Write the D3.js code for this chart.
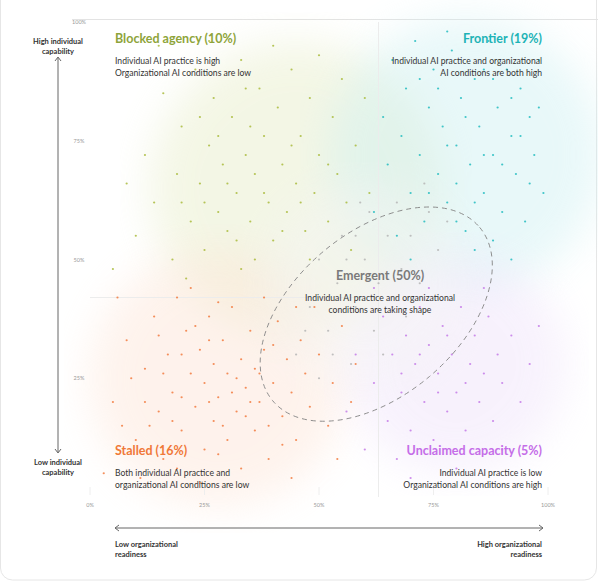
<!DOCTYPE html>
<html><head><meta charset="utf-8">
<script src="https://cdn.jsdelivr.net/npm/d3@7"></script>
<style>body{margin:0;background:#fff;font-family:Lato,"Noto Sans",sans-serif}</style>
</head><body><svg id="c" width="598" height="584"></svg>
<script>
const ticks=[0,25,50,75,100];
const orange="5 20,8 33,10 12,12 27,14 38,15 18,16 8,17 30,18 22,19 42,20 14,21 35,22 26,23 19,24 31,25 10,25 24,26 38,27 16,27 28,28 21,29 33,30 12,30 26,31 40,32 18,33 29,34 23,35 35,36 14,36 27,37 20,38 31,39 8,40 24,41 37,42 17,43 29,44 22,45 12,46 33,47 26,48 19,50 30,52 15,53 24,55 36,57 20,3 5,6 42,9 25,11 4,13 15,19 6,22 44,24 3,28 41,33 6,38 42,44 4,49 40,54 8,58 28,12 20,16 26,20 30,23 36,26 20,29 15,32 25,35 20,37 26,40 32,42 11,20 21,18 16,26 33,31 22,34 17,28 9,15 34,39 15,45 40,7 15";
const green="10 55,12 72,14 62,16 85,18 50,19 68,20 78,22 58,23 90,24 66,25 52,26 74,27 84,28 60,29 70,30 56,31 80,32 64,33 92,34 72,35 58,36 68,37 86,38 76,39 62,40 54,41 82,42 70,43 60,44 90,45 66,46 76,47 56,48 84,49 64,50 72,52 58,53 80,54 68,55 88,56 62,58 74,60 84,5 48,8 66,15 95,21 46,26 96,33 48,40 95,50 93,57 52,61 64,25 62,30 66,35 78,38 64,42 56,44 74,28 76,32 54,46 62,52 70,36 50,24 80,48 50,20 62,34 86";
const teal="62 60,64 80,65 70,66 92,67 55,68 76,69 86,70 64,71 96,72 72,73 58,74 82,75 90,76 68,77 78,78 62,79 94,80 74,81 84,82 56,83 70,84 88,85 78,86 64,87 96,88 72,89 82,90 60,91 90,92 76,93 68,94 86,95 58,96 80,97 72,98 92,99 64,84 52,88 54,92 50,78 98,70 50,86 72,82 80,90 70,76 86,94 76,80 66,88 88,72 88,96 66,84 62,78 74,92 84,86 90,74 64,98 82,80 58";
const purple="56 18,58 30,60 10,62 24,64 38,65 16,66 30,67 8,68 22,69 34,70 14,71 28,72 40,73 20,74 32,75 12,76 26,77 36,78 18,79 30,80 22,81 40,82 14,83 28,84 34,85 20,86 26,87 38,88 16,89 30,90 24,92 34,94 20,96 28,98 36,70 4,80 6,90 10,62 44,74 44,86 44,76 22,72 30,82 24,78 34,68 26";
const gray="45 30,48 40,50 50,52 35,54 45,55 55,57 28,58 40,60 50,61 60,62 35,63 45,65 55,66 40,67 62,68 48,70 55,72 45,74 60,76 52,78 58,50 25,53 30,56 50,59 62,64 30,69 38,47 35,58 55,73 66";
const groups=[{pts:orange,c:"#f27b3f"},{pts:green,c:"#a9bb3c"},{pts:teal,c:"#22bcc0"},{pts:purple,c:"#c47ae8"},{pts:gray,c:"#b5b5b5"}];
const glows=[{x:45,y:65,r:32,c:"#e6ecc6"},{x:82,y:72,r:30,c:"#cdf0f2"},{x:28,y:25,r:28,c:"#fde4d6"},{x:80,y:28,r:24,c:"#efe2fa"},{x:60,y:45,r:22,c:"#f4f4f4"}];
const labels=[
 {t:"Blocked agency (10%)",s:["Individual AI practice is high","Organizational AI conditions are low"],x:115,y:43,a:"start",c:"#8ea43a"},
 {t:"Frontier (19%)",s:["Individual AI practice and organizational","AI conditions are both high"],x:542,y:43,a:"end",c:"#1db3b6"},
 {t:"Stalled (16%)",s:["Both individual AI practice and","organizational AI conditions are low"],x:115,y:455,a:"start",c:"#f07838"},
 {t:"Unclaimed capacity (5%)",s:["Individual AI practice is low","Organizational AI conditions are high"],x:542,y:455,a:"end",c:"#c56de8"},
 {t:"Emergent (50%)",s:["Individual AI practice and organizational","conditions are taking shape"],x:380,y:280,a:"middle",c:"#7a7a7a"}];

const svg=d3.select("#c");
const x=d3.scaleLinear().domain([0,100]).range([90,548]);
const y=d3.scaleLinear().domain([0,100]).range([497,22]);
svg.append("rect").attr("x",0.5).attr("y",-20).attr("width",596).attr("height",600).attr("rx",12).attr("fill","#fff").attr("stroke","#e6e6e6");
svg.append("line").attr("x1",72).attr("x2",598).attr("y1",19.5).attr("y2",19.5).attr("stroke","#e3e3e3");
const defs=svg.append("defs");
defs.append("filter").attr("id","bl").append("feGaussianBlur").attr("stdDeviation",20);
glows.forEach((g,i)=>{
 svg.append("circle").attr("cx",x(g.x)).attr("cy",y(g.y)).attr("r",x(g.r)-x(0)).attr("fill",g.c).attr("opacity",0.45).attr("filter","url(#bl)");
});
svg.append("line").attr("x1",x(63)).attr("x2",x(63)).attr("y1",y(100)).attr("y2",y(0)).attr("stroke","#ececec");
svg.append("line").attr("x1",x(0)).attr("x2",x(63)).attr("y1",y(42)).attr("y2",y(42)).attr("stroke","#ececec");
groups.forEach(g=>{
 const d=g.pts.split(",").map(p=>p.trim().split(" ").map(Number));
 svg.append("g").selectAll("circle").data(d).join("circle").attr("cx",p=>x(p[0])).attr("cy",p=>y(p[1])).attr("r",1.1).attr("fill",g.c).attr("opacity",0.85);
});
svg.append("ellipse").attr("cx",0).attr("cy",0).attr("rx",135).attr("ry",82)
 .attr("transform",`translate(${x(62.5)},${y(38.5)}) rotate(-40)`).attr("fill","none").attr("stroke","#8a8a8a").attr("stroke-dasharray","5,4").attr("stroke-width",0.9);
svg.append("g").selectAll("text").data(ticks).join("text").attr("x",d=>x(d)).attr("y",507).attr("text-anchor","middle").attr("font-size",5.5).attr("fill","#999").text(d=>d+"%");
svg.append("g").selectAll("text").data(ticks.slice(1)).join("text").attr("x",79).attr("y",d=>y(d)+2).attr("text-anchor","middle").attr("font-size",5.5).attr("fill","#999").text(d=>d+"%");
svg.append("g").selectAll("line").data(ticks).join("line").attr("x1",d=>x(d)).attr("x2",d=>x(d)).attr("y1",487).attr("y2",495).attr("stroke","#eee");
labels.forEach(l=>{
 svg.append("text").attr("x",l.x).attr("y",l.y).attr("text-anchor",l.a).attr("font-size",12.5).attr("font-weight",700).attr("fill",l.c).text(l.t);
 l.s.forEach((s,i)=>svg.append("text").attr("x",l.x).attr("y",l.y+21+i*12).attr("text-anchor",l.a).attr("font-size",8.6).attr("fill","#333").text(s));
});
const ac="#666";
svg.append("line").attr("x1",58).attr("x2",58).attr("y1",58).attr("y2",452).attr("stroke",ac);
svg.append("path").attr("d","M55,61L58,57L61,61M55,449L58,453L61,449").attr("fill","none").attr("stroke",ac);
svg.append("line").attr("x1",115).attr("x2",543).attr("y1",528).attr("y2",528).attr("stroke",ac);
svg.append("path").attr("d","M119,525L115,528L119,531M539,525L543,528L539,531").attr("fill","none").attr("stroke",ac);
function ml(lines,xx,yy,a){lines.forEach((s,i)=>svg.append("text").attr("x",xx).attr("y",yy+i*10).attr("text-anchor",a).attr("font-size",7.5).attr("font-weight",700).attr("fill","#333").text(s));}
ml(["High individual","capability"],58,44,"middle");
ml(["Low individual","capability"],58,465,"middle");
ml(["Low organizational","readiness"],115,547,"start");
ml(["High organizational","readiness"],542,547,"end");
</script></body></html>
